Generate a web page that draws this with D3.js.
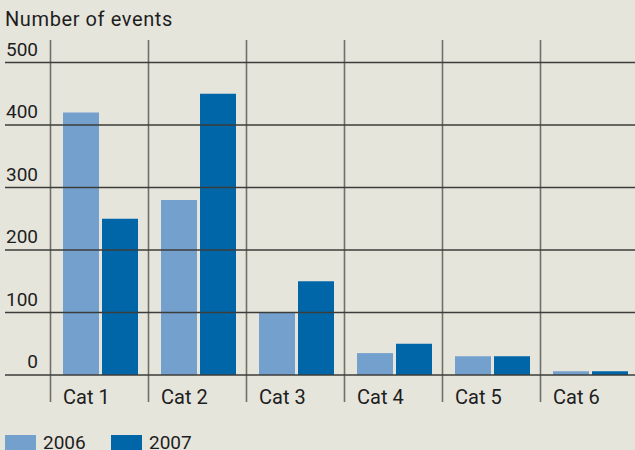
<!DOCTYPE html>
<html>
<head>
<meta charset="utf-8">
<script src="https://cdn.jsdelivr.net/npm/d3@7"></script>
<style>
  html, body { margin: 0; padding: 0; background: #e6e5dc; }
  svg { display: block; }
  text { font-family: Roboto, "Liberation Sans", sans-serif; fill: #1e1e1e; }
</style>
</head>
<body>
<svg id="chart" width="635" height="450"></svg>
<script>
const categories = ["Cat 1", "Cat 2", "Cat 3", "Cat 4", "Cat 5", "Cat 6"];
const seriesNames = ["2006", "2007"];
const values2006 = [420, 280, 100, 35, 30, 6];
const values2007 = [250, 450, 150, 50, 30, 6];
const yTicks = [0, 100, 200, 300, 400, 500];
const colors = ["#74a0cd", "#0066a8"];
const title = "Number of events";

const svg = d3.select("#chart");
const W = 635, H = 450;

svg.append("rect").attr("width", W).attr("height", H).attr("fill", "#e6e5dc");

const x = d3.scaleBand().domain(categories).range([50.5, 50.5 + 6 * 98]).padding(0);
const xInner = d3.scaleBand().domain(seriesNames).range([12.5, 87.5]).paddingInner(3 / 39).paddingOuter(0);
const y = d3.scaleLinear().domain([0, 500]).range([375, 62.5]);

const data = categories.map((c, i) => ({ cat: c, vals: [values2006[i], values2007[i]] }));

// vertical separators
svg.append("g").selectAll("line").data(categories).join("line")
  .attr("x1", d => x(d)).attr("x2", d => x(d))
  .attr("y1", 40).attr("y2", 402)
  .attr("stroke", "#6f6f6b").attr("stroke-width", 1.6);

// bars
const groups = svg.append("g").selectAll("g").data(data).join("g")
  .attr("transform", d => `translate(${x(d.cat)},0)`);
groups.selectAll("rect").data(d => d.vals.map((v, j) => ({ s: seriesNames[j], v, j }))).join("rect")
  .attr("x", d => xInner(d.s))
  .attr("width", xInner.bandwidth())
  .attr("y", d => y(d.v))
  .attr("height", d => y(0) - y(d.v))
  .attr("fill", d => colors[d.j]);

// horizontal gridlines
svg.append("g").selectAll("line").data(yTicks).join("line")
  .attr("x1", 5).attr("x2", W)
  .attr("y1", d => y(d)).attr("y2", d => y(d))
  .attr("stroke", "#3c3c3a").attr("stroke-width", 1.5);

// y tick labels
svg.append("g").selectAll("text").data(yTicks).join("text")
  .attr("x", 38).attr("y", d => y(d) - 7)
  .attr("text-anchor", "end")
  .attr("font-size", 19)
  .text(d => d);

// category labels
svg.append("g").selectAll("text").data(categories).join("text")
  .attr("x", d => x(d) + 12.5).attr("y", 404)
  .attr("font-size", 20)
  .text(d => d);

// title
svg.append("text").attr("x", 5).attr("y", 26).attr("font-size", 20)
  .attr("letter-spacing", 0.6).text(title);

// legend
const legendX = [5, 111];
const lg = svg.append("g").selectAll("g").data(seriesNames).join("g")
  .attr("transform", (d, i) => `translate(${legendX[i]},435)`);
lg.append("rect").attr("width", 31).attr("height", 20).attr("fill", (d, i) => colors[i]);
lg.append("text").attr("x", 38).attr("y", 13.5).attr("font-size", 19).text(d => d);
</script>
</body>
</html>
